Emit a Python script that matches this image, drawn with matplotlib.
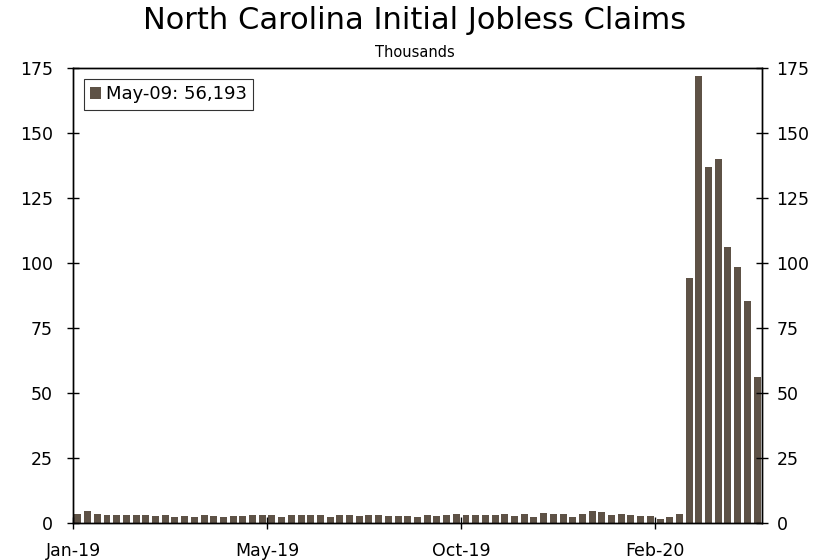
import matplotlib
matplotlib.use("Agg")
import matplotlib.pyplot as plt
from matplotlib.patches import Patch
import numpy as np

# Weekly initial jobless claims, North Carolina (thousands), week ending Jan-05-2019 .. May-09-2020
claims = [
    3.5, 4.7, 3.5, 3.1, 3.1, 3.1, 3.1, 3.1, 2.7, 3.1,
    2.4, 2.7, 2.4, 3.1, 2.7, 2.4, 2.7, 2.7, 3.1, 3.1,
    3.1, 2.4, 3.1, 3.1, 3.1, 3.1, 2.4, 3.1, 3.1, 2.7,
    3.1, 3.1, 2.7, 2.7, 2.7, 2.4, 3.1, 2.7, 3.1, 3.5,
    3.1, 3.1, 3.1, 3.1, 3.5, 2.7, 3.5, 2.2, 3.8, 3.5,
    3.5, 2.2, 3.5, 4.5, 4.1, 3.1, 3.5, 3.1, 2.7, 2.7,
    1.4, 2.4, 3.5, 94.0, 172.0, 137.0, 140.0, 106.0, 98.5, 85.5,
    56.193,
]
tick_weeks = [0, 20, 40, 60]
tick_labels = ["Jan-19", "May-19", "Oct-19", "Feb-20"]
y_ticks = [0, 25, 50, 75, 100, 125, 150, 175]
legend_label = "May-09: 56,193"

bar_color = "#5e5246"

plt.rcParams["font.family"] = ["DejaVu Sans"]

fig = plt.figure(figsize=(8.3, 5.6), dpi=100)
ax = fig.add_axes([0.088, 0.066, 0.830, 0.813])

x = np.arange(len(claims))
ax.bar(x, claims, width=0.72, color=bar_color, linewidth=0)

ax.set_xlim(-0.5, len(claims) - 0.5)
ax.set_ylim(0, 175)
ax.set_yticks(y_ticks)
ax.set_xticks([w - 0.5 for w in tick_weeks])
ax.set_xticklabels(tick_labels)

ax.tick_params(axis="both", direction="inout", length=9, width=1,
               labelsize=12.5, colors="black")
ax.tick_params(axis="y", pad=10)
ax.tick_params(axis="x", pad=9)
for s in ax.spines.values():
    s.set_color("black")
    s.set_linewidth(1.0)

# Mirror the value axis on the right side
ax_r = ax.twinx()
ax_r.set_ylim(ax.get_ylim())
ax_r.set_yticks(y_ticks)
ax_r.tick_params(axis="y", direction="inout", length=9, width=1,
                 labelsize=12.5, colors="black", pad=6)
for s in ax_r.spines.values():
    s.set_color("black")
    s.set_linewidth(1.0)

fig.text(0.5, 0.963, "North Carolina Initial Jobless Claims",
         ha="center", va="center", fontsize=22)
fig.text(0.5, 0.907, "Thousands", ha="center", va="center", fontsize=10.5)

handle = Patch(facecolor=bar_color, edgecolor="none")
leg = ax.legend([handle], [legend_label], loc="upper left",
                bbox_to_anchor=(0.016, 0.975), fontsize=13,
                frameon=True, fancybox=False, handlelength=0.6,
                handleheight=0.6, handletextpad=0.25, borderpad=0.35,
                borderaxespad=0)
leg.get_frame().set_edgecolor("black")
leg.get_frame().set_linewidth(0.8)

fig.savefig("out.png", dpi=100)
